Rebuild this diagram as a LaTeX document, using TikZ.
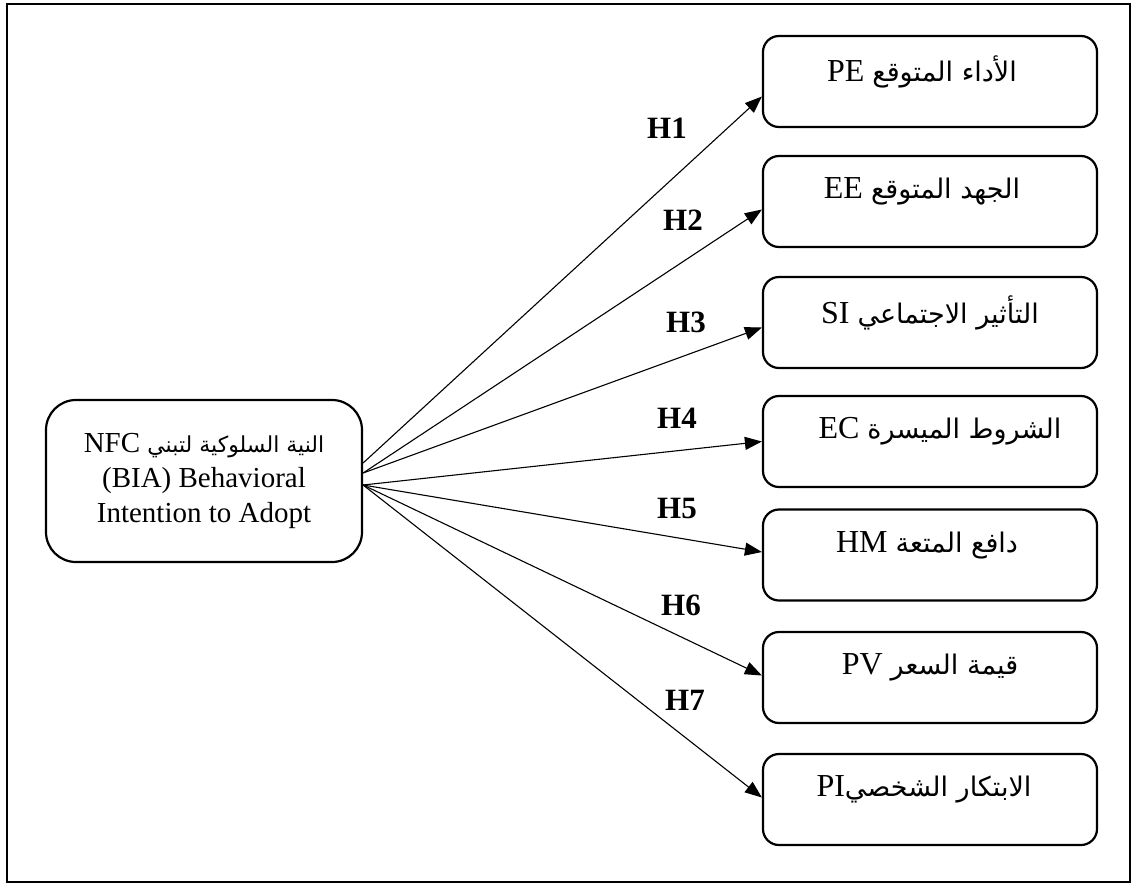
\documentclass[tikz,border=0pt]{standalone}
\usepackage{fontspec}
\setmainfont{Liberation Serif}
\newfontfamily\arabicfont[Script=Arabic]{DejaVu Sans}
\TeXXeTstate=1
\usetikzlibrary{arrows.meta}
\newcommand{\ar}[1]{{\arabicfont\fontsize{27}{30}\selectfont\beginR #1\endR}}
\newcommand{\arsmall}[1]{{\arabicfont\fontsize{22}{26}\selectfont\beginR #1\endR}}
\begin{document}
\begin{tikzpicture}[x=1pt,y=-1pt,
  rbox/.style={draw, line width=2.2pt, rounded corners=16pt, minimum width=334pt, minimum height=91pt, inner sep=0pt},
  lbox/.style={draw, line width=2.2pt, rounded corners=30pt, minimum width=316pt, minimum height=162pt, inner sep=0pt, align=center, font=\fontsize{29}{35}\selectfont},
  arr/.style={-{Triangle[length=17pt,width=13pt]}, line width=1.1pt},
  hl/.style={font=\fontsize{31}{32}\selectfont\bfseries, inner sep=0pt},
  bt/.style={font=\fontsize{32}{34}\selectfont, inner sep=0pt}]
\useasboundingbox (0,0) rectangle (1132,884);
\draw[line width=2pt] (7,4) rectangle (1130,882);

\node[lbox] (L) at (204,481) {NFC \arsmall{النية السلوكية لتبني}\\(BIA) Behavioral\\Intention to Adopt};

\node[rbox] (b1) at (930,81.5) {};
\node[rbox] (b2) at (930,201.5) {};
\node[rbox] (b3) at (930,322.5) {};
\node[rbox] (b4) at (930,441.5) {};
\node[rbox] (b5) at (930,555) {};
\node[rbox] (b6) at (930,677.5) {};
\node[rbox] (b7) at (930,799.5) {};

\node[bt] (t1) at ([xshift=-8pt,yshift=10pt]b1.center) {PE \ar{الأداء المتوقع}};
\node[bt] (t2) at ([xshift=-8pt,yshift=10pt]b2.center) {EE \ar{الجهد المتوقع}};
\node[bt] (t3) at ([xshift=0pt,yshift=10pt]b3.center) {SI \ar{التأثير الاجتماعي}};
\node[bt] (t4) at ([xshift=10pt,yshift=10pt]b4.center) {EC \ar{الشروط الميسرة}};
\node[bt] (t5) at ([xshift=-3pt,yshift=10pt]b5.center) {HM \ar{دافع المتعة}};
\node[bt] (t6) at ([xshift=0pt,yshift=10pt]b6.center) {PV \ar{قيمة السعر}};
\node[bt] (t7) at ([xshift=-6pt,yshift=10pt]b7.center) {PI\ar{الابتكار الشخصي}};

\draw[arr] ([yshift=18pt]L.east) -- ([yshift=-15pt]b1.west);
\draw[arr] ([yshift=8pt]L.east) -- ([yshift=-8pt]b2.west);
\draw[arr] ([yshift=8pt]L.east) -- ([yshift=-5pt]b3.west);
\draw[arr] ([yshift=-4pt]L.east) -- ([yshift=0pt]b4.west);
\draw[arr] ([yshift=-4pt]L.east) -- ([yshift=3pt]b5.west);
\draw[arr] ([yshift=-4pt]L.east) -- ([yshift=2pt]b6.west);
\draw[arr] ([yshift=-4pt]L.east) -- ([yshift=2pt]b7.west);

\node[hl] (h1) at (667,128) {H1};
\node[hl] (h2) at (683,220) {H2};
\node[hl] (h3) at (686,322) {H3};
\node[hl] (h4) at (677,418) {H4};
\node[hl] (h5) at (677,508) {H5};
\node[hl] (h6) at (681,605) {H6};
\node[hl] (h7) at (685,700) {H7};
\end{tikzpicture}
\end{document}
